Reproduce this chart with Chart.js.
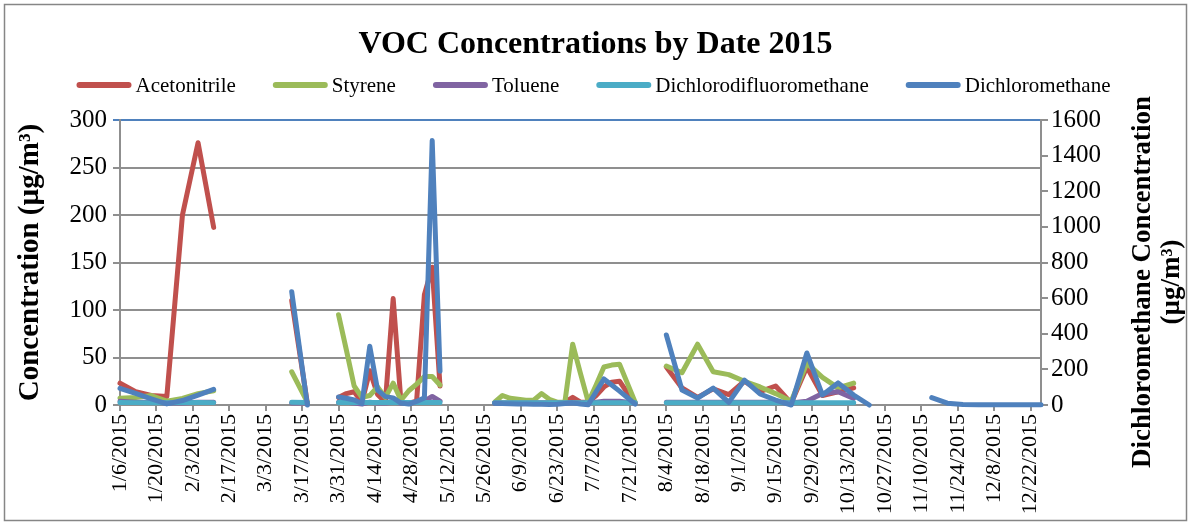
<!DOCTYPE html>
<html>
<head>
<meta charset="utf-8">
<script src="https://cdn.jsdelivr.net/npm/chart.js@4.4.1/dist/chart.umd.min.js"></script>
<style>
html,body{margin:0;padding:0;background:#fff;}
#wrap{width:1191px;height:525px;position:relative;}
</style>
</head>
<body>
<div id="wrap"><canvas id="c"></canvas></div>
<script>
// ---------- data ----------
const chartTitle = 'VOC Concentrations by Date 2015';
const leftAxisTitle = 'Concentration (µg/m³)';
const rightAxisTitle = ['Dichloromethane Concentration', '(µg/m³)'];
const seriesNames = ['Acetonitrile', 'Styrene', 'Toluene', 'Dichlorodifluoromethane', 'Dichloromethane'];
const seriesColors = ['#C0504D', '#9BBB59', '#8064A2', '#4BACC6', '#4F81BD'];

const sampleDates = [
  '1/6/2015','1/12/2015','1/18/2015','1/24/2015','1/30/2015','2/5/2015','2/11/2015',
  '3/13/2015','3/19/2015',
  '3/31/2015','4/3/2015','4/6/2015','4/9/2015','4/12/2015','4/15/2015','4/18/2015','4/21/2015','4/24/2015','4/27/2015','4/30/2015','5/3/2015','5/6/2015','5/9/2015',
  '5/30/2015','6/2/2015','6/5/2015','6/8/2015','6/11/2015','6/14/2015','6/17/2015','6/20/2015','6/23/2015','6/26/2015','6/29/2015','7/2/2015','7/5/2015','7/8/2015','7/11/2015','7/14/2015','7/17/2015','7/20/2015','7/23/2015',
  '8/4/2015','8/10/2015','8/16/2015','8/22/2015','8/28/2015','9/3/2015','9/9/2015','9/15/2015','9/21/2015','9/27/2015','10/3/2015','10/9/2015','10/15/2015','10/21/2015',
  '11/14/2015','11/20/2015','11/26/2015','12/2/2015','12/8/2015','12/14/2015','12/20/2015','12/26/2015'
];

const acetonitrile = [
  23,14,10,9,200,276,187,
  110,2,
  8,12,14,3,36,11,3,112,3,2,4,116,145,20,
  2,2,2,2,2,2,2,2,2,3,8,3,3,10,19,24,25,13,2,
  40,18,8,17,11,25,14,20,2,40,10,14,18,null,
  null,null,null,null,null,null,null,null
];
const styrene = [
  7,8,10,4,7,12,15,
  35,3,
  95,58,20,8,10,19,8,23,5,15,22,30,30,21,
  3,10,7,6,5,5,12,6,3,3,64,33,3,21,40,42,43,23,3,
  41,34,64,35,32,25,19,12,4,44,29,18,23,null,
  null,null,null,null,null,null,null,null
];
const toluene = [
  4,3,3,2,2,3,3,
  2,2,
  3,3,2,1,3,2,2,3,2,2,3,4,9,4,
  2,2,2,2,2,2,2,2,2,2,2,2,2,3,4,4,4,3,2,
  3,3,3,3,3,3,3,3,2,4,12,14,7,null,
  null,null,null,null,null,null,null,null
];
const dichlorodifluoromethane = [
  2.6,2.5,2.5,2.4,2.5,2.6,2.5,
  2.8,2.7,
  2.7,2.7,2.6,2.7,2.7,2.6,2.7,2.7,2.6,2.7,2.7,2.6,2.7,2.7,
  2.3,2.3,2.3,2.3,2.3,2.3,2.3,2.3,2.3,2.3,2.3,2.3,2.3,2.3,2.3,2.3,2.3,2.3,2.3,
  2.5,2.5,2.5,2.5,2.5,2.5,2.5,2.5,2.5,2.5,2.5,2.5,2.5,null,
  null,null,null,null,null,null,null,null
];
const dichloromethane = [
  94,65,35,6,25,55,88,
  636,0,
  45,38,28,8,330,84,47,40,11,5,20,40,1485,190,
  10,8,7,5,5,4,4,3,4,8,12,6,2,74,146,112,78,42,5,
  393,84,39,95,15,140,62,28,0,292,56,124,56,0,
  41,10,3,1,1,1,1,1
];

const tickLabels = [
  '1/6/2015','1/20/2015','2/3/2015','2/17/2015','3/3/2015','3/17/2015','3/31/2015','4/14/2015','4/28/2015',
  '5/12/2015','5/26/2015','6/9/2015','6/23/2015','7/7/2015','7/21/2015','8/4/2015','8/18/2015','9/1/2015',
  '9/15/2015','9/29/2015','10/13/2015','10/27/2015','11/10/2015','11/24/2015','12/8/2015','12/22/2015'
];
const leftAxisMax = 300, leftAxisStep = 50;
const rightAxisMax = 1600, rightAxisStep = 200;

// ---------- helpers ----------
const origin = Date.UTC(2015, 0, 6);
function dayOf(s) {
  const [m, d, y] = s.split('/').map(Number);
  return Math.round((Date.UTC(y, m - 1, d) - origin) / 86400000);
}
const sampleDays = sampleDates.map(dayOf);
const tickDays = tickLabels.map(dayOf);
function pts(vals) { return vals.map((v, i) => ({x: sampleDays[i], y: v})); }

const serif = "'Liberation Serif', 'Times New Roman', serif";
const gridGray = '#8f8f8f';

const seriesValues = [acetonitrile, styrene, toluene, dichlorodifluoromethane, dichloromethane];
const datasets = seriesNames.map((name, i) => ({
  label: name,
  data: pts(seriesValues[i]),
  yAxisID: i === 4 ? 'y2' : 'y',
  borderColor: seriesColors[i],
  backgroundColor: seriesColors[i],
  borderWidth: 5,
  pointRadius: 0,
  pointHoverRadius: 0,
  tension: 0,
  borderCapStyle: 'round',
  borderJoinStyle: 'round',
  spanGaps: 10,
  clip: false,
  order: 5 - i
}));

// ---------- plugins ----------
const decorPlugin = {
  id: 'decor',
  beforeDraw(chart) {
    const ctx = chart.ctx;
    ctx.save();
    ctx.fillStyle = '#fff';
    ctx.fillRect(0, 0, chart.width, chart.height);
    ctx.restore();
  },
  afterDraw(chart) {
    const ctx = chart.ctx;
    ctx.save();
    // outer border
    ctx.strokeStyle = '#868686';
    ctx.lineWidth = 1.5;
    ctx.strokeRect(4.5, 4.5, chart.width - 9, chart.height - 9);

    // legend
    ctx.font = '21px ' + serif;
    const sw = 55, gapText = 4, gapItem = 37, ly = 85;
    const items = chart.data.datasets.map(ds => ({text: ds.label, color: ds.borderColor, w: ctx.measureText(ds.label).width}));
    let total = items.reduce((a, it) => a + sw + gapText + it.w, 0) + gapItem * (items.length - 1);
    let x = (chart.width - total) / 2 - 2;
    items.forEach(it => {
      ctx.strokeStyle = it.color;
      ctx.lineWidth = 6;
      ctx.lineCap = 'round';
      ctx.beginPath();
      ctx.moveTo(x + 3, ly);
      ctx.lineTo(x + sw - 3, ly);
      ctx.stroke();
      ctx.fillStyle = '#000';
      ctx.textAlign = 'left';
      ctx.textBaseline = 'alphabetic';
      ctx.fillText(it.text, x + sw + gapText, ly + 7);
      x += sw + gapText + it.w + gapItem;
    });

    // right axis title (reads bottom to top)
    ctx.font = 'bold 27px ' + serif;
    ctx.fillStyle = '#000';
    ctx.textAlign = 'center';
    ctx.textBaseline = 'middle';
    const xs = [1143, 1172];
    rightAxisTitle.forEach((line, i) => {
      ctx.save();
      ctx.translate(xs[i], 282);
      ctx.rotate(-Math.PI / 2);
      ctx.fillText(line, 0, 0);
      ctx.restore();
    });
    ctx.restore();
  }
};

new Chart(document.getElementById('c'), {
  type: 'line',
  data: {datasets},
  options: {
    responsive: true,
    maintainAspectRatio: false,
    animation: false,
    layout: {padding: 0},
    plugins: {
      legend: {display: false},
      tooltip: {enabled: false},
      title: {
        display: true,
        text: chartTitle,
        color: '#000',
        font: {family: serif, size: 32, weight: 'bold'},
        padding: {top: 26, bottom: 55.6}
      }
    },
    scales: {
      x: {
        type: 'linear',
        min: 0,
        max: sampleDays[sampleDays.length - 1],
        afterBuildTicks(scale) { scale.ticks = tickDays.map(v => ({value: v})); },
        afterFit(scale) { scale.height = 120; },
        ticks: {
          autoSkip: false,
          minRotation: 90,
          maxRotation: 90,
          padding: 3,
          color: '#000',
          font: {family: serif, size: 22},
          callback: (v) => tickLabels[tickDays.indexOf(v)]
        },
        grid: {display: true, drawOnChartArea: false, drawTicks: true, tickLength: 6, color: gridGray, lineWidth: 2},
        border: {display: true, color: gridGray, width: 2}
      },
      y: {
        position: 'left',
        min: 0,
        max: leftAxisMax,
        afterFit(scale) { scale.width = 120; },
        ticks: {stepSize: leftAxisStep, padding: 6, color: '#000', font: {family: serif, size: 25},
                callback: (v) => String(v)},
        grid: {
          color: (c) => (c.tick && c.tick.value === leftAxisMax) ? '#4F81BD' : gridGray,
          lineWidth: 2, tickLength: 7
        },
        border: {display: true, color: gridGray, width: 2},
        title: {
          display: true,
          text: leftAxisTitle,
          color: '#000',
          font: {family: serif, size: 29, weight: 'bold'},
          padding: {top: 13, bottom: 0}
        }
      },
      y2: {
        position: 'right',
        min: 0,
        max: rightAxisMax,
        afterFit(scale) { scale.width = 150; },
        ticks: {stepSize: rightAxisStep, padding: 3, color: '#000', font: {family: serif, size: 25},
                callback: (v) => String(v)},
        grid: {drawOnChartArea: false, drawTicks: true, tickLength: 7, color: gridGray, lineWidth: 2},
        border: {display: true, color: gridGray, width: 2}
      }
    }
  },
  plugins: [decorPlugin]
});
</script>
</body>
</html>
